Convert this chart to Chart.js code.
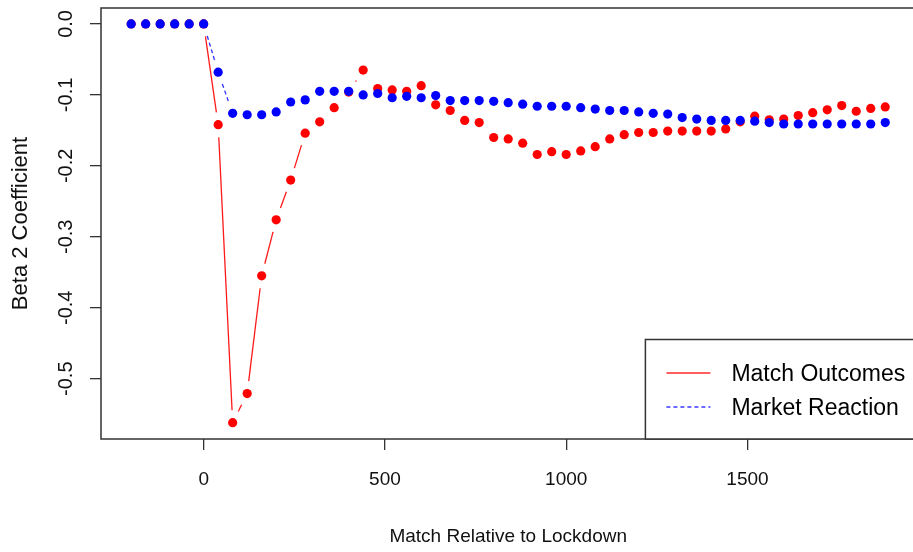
<!DOCTYPE html>
<html>
<head>
<meta charset="utf-8">
<script src="https://cdn.jsdelivr.net/npm/chart.js@4.4.1/dist/chart.umd.min.js"></script>
<style>
  html, body { margin: 0; padding: 0; background: #fff; overflow: hidden; }
  #wrap { width: 913px; height: 552px; overflow: hidden; }
  canvas { display: block; }
</style>
</head>
<body>
<div id="wrap"><canvas id="chart" width="920" height="552"></canvas></div>
<script>
// match index relative to lockdown
const matchX = [-200, -160, -120, -80, -40, 0, 40, 80, 120, 160, 200, 240, 280, 320, 360, 400,
  440, 480, 520, 560, 600, 640, 680, 720, 760, 800, 840, 880, 920, 960, 1000, 1040, 1080, 1120,
  1160, 1200, 1240, 1280, 1320, 1360, 1400, 1440, 1480, 1520, 1560, 1600, 1640, 1680, 1720,
  1760, 1800, 1840, 1880];

const matchOutcomes = [0, 0, 0, 0, 0, 0, -0.142, -0.562, -0.521, -0.355, -0.276, -0.220, -0.154,
  -0.138, -0.118, -0.096, -0.065, -0.091, -0.093, -0.095, -0.087, -0.114, -0.122, -0.136, -0.139,
  -0.160, -0.162, -0.168, -0.184, -0.180, -0.184, -0.179, -0.173, -0.162, -0.156, -0.153, -0.153,
  -0.151, -0.151, -0.151, -0.151, -0.148, -0.138, -0.130, -0.135, -0.134, -0.129, -0.125, -0.121,
  -0.115, -0.123, -0.119, -0.117];

const marketReaction = [0, 0, 0, 0, 0, 0, -0.068, -0.126, -0.128, -0.128, -0.124, -0.110, -0.107,
  -0.095, -0.095, -0.095, -0.100, -0.098, -0.104, -0.102, -0.104, -0.101, -0.108, -0.108, -0.108,
  -0.109, -0.111, -0.113, -0.116, -0.116, -0.116, -0.118, -0.120, -0.122, -0.122, -0.124, -0.126,
  -0.127, -0.132, -0.134, -0.136, -0.136, -0.136, -0.137, -0.139, -0.141, -0.141, -0.141, -0.141,
  -0.141, -0.141, -0.141, -0.139];

const xTicks = [0, 500, 1000, 1500];
const yTicks = [0, -0.1, -0.2, -0.3, -0.4, -0.5];
const seriesNames = ['Match Outcomes', 'Market Reaction'];

const toPoints = (ys) => matchX.map((x, i) => ({ x: x, y: ys[i] }));

// R type="b": segments between points, cut back so they don't touch the dots
const gappedLines = {
  id: 'gappedLines',
  beforeDatasetsDraw(chart) {
    const ctx = chart.ctx;
    const gap = 12.5;
    chart.data.datasets.forEach((ds, di) => {
      const pts = chart.getDatasetMeta(di).data;
      ctx.save();
      ctx.strokeStyle = ds.lineColor;
      ctx.lineWidth = 1.3;
      for (let i = 1; i < pts.length; i++) {
        const a = pts[i - 1], b = pts[i];
        const dx = b.x - a.x, dy = b.y - a.y;
        const len = Math.hypot(dx, dy);
        if (len <= 2 * gap) continue;
        const ux = dx / len, uy = dy / len;
        ctx.setLineDash(ds.lineDash);
        ctx.beginPath();
        ctx.moveTo(a.x + ux * gap, a.y + uy * gap);
        ctx.lineTo(b.x - ux * gap, b.y - uy * gap);
        ctx.stroke();
      }
      ctx.restore();
    });
  }
};

// plot box + bottom-right legend like base R
const boxAndLegend = {
  id: 'boxAndLegend',
  afterDraw(chart) {
    const ctx = chart.ctx;
    const a = chart.chartArea;
    ctx.save();
    ctx.strokeStyle = '#333';
    ctx.lineWidth = 1.5;
    ctx.strokeRect(a.left, a.top, a.right - a.left, a.bottom - a.top);

    const lx = a.right - 270, ly = a.bottom - 99.5;
    ctx.fillStyle = '#fff';
    ctx.fillRect(lx, ly, a.right - lx, a.bottom - ly);
    ctx.strokeRect(lx, ly, a.right - lx, a.bottom - ly);

    const rows = [
      { name: seriesNames[0], color: '#ff2a2a', dash: [], y: ly + 33.5 },
      { name: seriesNames[1], color: '#3a3aff', dash: [4, 3], y: ly + 67.5 }
    ];
    rows.forEach(r => {
      ctx.strokeStyle = r.color;
      ctx.lineWidth = 1.5;
      ctx.setLineDash(r.dash);
      ctx.beginPath();
      ctx.moveTo(lx + 21, r.y);
      ctx.lineTo(lx + 65, r.y);
      ctx.stroke();
      ctx.setLineDash([]);
      ctx.fillStyle = '#000';
      ctx.font = '23px "Liberation Sans", Arial, sans-serif';
      ctx.textBaseline = 'middle';
      ctx.fillText(r.name, lx + 86, r.y + 2);
    });
    ctx.restore();
  }
};

const axisFont = '"Liberation Sans", Arial, sans-serif';
const noPad = (s) => { s.paddingTop = 0; s.paddingBottom = 0; s.paddingLeft = 0; s.paddingRight = 0; };

new Chart(document.getElementById('chart'), {
  type: 'scatter',
  data: {
    datasets: [
      {
        label: seriesNames[1],
        data: toPoints(marketReaction),
        pointBackgroundColor: 'blue',
        pointBorderWidth: 0,
        pointRadius: 4.6,
        lineColor: '#2f2fff',
        lineDash: [4, 3]
      },
      {
        label: seriesNames[0],
        data: toPoints(matchOutcomes),
        pointBackgroundColor: 'red',
        pointBorderWidth: 0,
        pointRadius: 4.6,
        lineColor: '#ff1a1a',
        lineDash: []
      }
    ]
  },
  options: {
    responsive: false,
    animation: false,
    events: [],
    devicePixelRatio: 1,
    layout: { padding: { top: 8, right: 4, left: 0, bottom: 0 } },
    plugins: { legend: { display: false }, tooltip: { enabled: false } },
    scales: {
      x: {
        type: 'linear',
        min: -283.2,
        max: 1963.2,
        afterFit: (s) => { s.height = 113; noPad(s); },
        afterBuildTicks: (s) => { s.ticks = xTicks.map(v => ({ value: v })); },
        border: { display: false },
        grid: { drawOnChartArea: false, drawTicks: true, tickLength: 11, color: '#333', lineWidth: 1.3 },
        ticks: {
          padding: 18,
          color: '#111',
          maxRotation: 0,
          autoSkip: false,
          font: { family: axisFont, size: 19 },
          callback: (v) => String(v)
        },
        title: {
          display: true,
          text: 'Match Relative to Lockdown',
          color: '#111',
          padding: { top: 0, bottom: 4 },
          font: { family: axisFont, size: 19 }
        }
      },
      y: {
        type: 'linear',
        min: -0.585,
        max: 0.0225,
        afterFit: (s) => { s.width = 101; noPad(s); },
        afterBuildTicks: (s) => { s.ticks = yTicks.map(v => ({ value: v })); },
        border: { display: false },
        grid: { drawOnChartArea: false, drawTicks: true, tickLength: 11, color: '#333', lineWidth: 1.3 },
        ticks: {
          padding: 6,
          color: '#111',
          minRotation: 90,
          maxRotation: 90,
          crossAlign: 'center',
          autoSkip: false,
          font: { family: axisFont, size: 20 },
          callback: (v) => v.toFixed(1)
        },
        title: {
          display: true,
          text: 'Beta 2 Coefficient',
          color: '#111',
          padding: { top: 8, bottom: 0 },
          font: { family: axisFont, size: 22 }
        }
      }
    }
  },
  plugins: [gappedLines, boxAndLegend]
});
</script>
</body>
</html>
